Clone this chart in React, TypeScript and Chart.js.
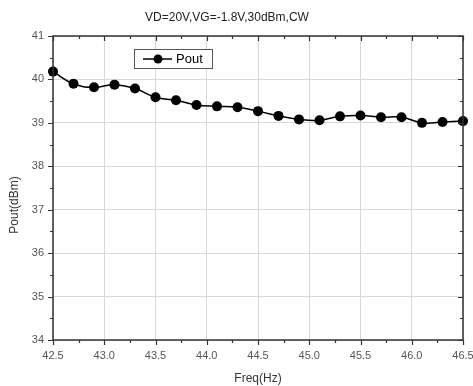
import React, { useEffect, useRef } from "react";
import { Chart, registerables } from "chart.js";

Chart.register(...registerables);

const freqs = [42.5, 42.7, 42.9, 43.1, 43.3, 43.5, 43.7, 43.9, 44.1, 44.3, 44.5, 44.7, 44.9, 45.1, 45.3, 45.5, 45.7, 45.9, 46.1, 46.3, 46.5];
const pout = [40.18, 39.9, 39.82, 39.88, 39.79, 39.59, 39.52, 39.41, 39.38, 39.36, 39.27, 39.16, 39.08, 39.06, 39.15, 39.17, 39.13, 39.13, 39.0, 39.02, 39.04];
const titleText = "VD=20V,VG=-1.8V,30dBm,CW";
const xTitle = "Freq(Hz)";
const yTitle = "Pout(dBm)";
const seriesName = "Pout";
const xMin = 42.5, xMax = 46.5, xStep = 0.5;
const yMin = 34, yMax = 41, yStep = 1;

const FONT = "'Liberation Sans', Arial, sans-serif";

const decorPlugin = {
  id: "decor",
  afterDraw(chart: any) {
    const ctx = chart.ctx as CanvasRenderingContext2D;
    const { left, right, top, bottom } = chart.chartArea;
    const xs = chart.scales.x;
    const ys = chart.scales.y;
    ctx.save();
    ctx.strokeStyle = "#333";
    ctx.lineWidth = 1.5;
    ctx.strokeRect(left, top, right - left, bottom - top);
    ctx.lineWidth = 1.2;
    ctx.beginPath();
    for (let v = xMin; v <= xMax + 1e-9; v += xStep / 2) {
      const major = Math.abs(v / xStep - Math.round(v / xStep)) < 1e-6;
      const px = Math.round(xs.getPixelForValue(v)) + 0.5;
      const len = major ? 5 : 3;
      ctx.moveTo(px, bottom);
      ctx.lineTo(px, bottom + len);
      ctx.moveTo(px, top);
      ctx.lineTo(px, top + len);
    }
    for (let v = yMin; v <= yMax + 1e-9; v += yStep / 2) {
      const major = Math.abs(v / yStep - Math.round(v / yStep)) < 1e-6;
      const py = Math.round(ys.getPixelForValue(v)) + 0.5;
      const len = major ? 5 : 3;
      ctx.moveTo(left, py);
      ctx.lineTo(left - len, py);
      ctx.moveTo(right, py);
      ctx.lineTo(right - len, py);
    }
    ctx.stroke();

    ctx.fillStyle = "#222";
    ctx.font = `12px ${FONT}`;
    ctx.textAlign = "center";
    ctx.textBaseline = "middle";
    ctx.fillText(titleText, 227, 18);

    const lx = 134, ly = 49, lw = 78, lh = 19;
    ctx.fillStyle = "#fff";
    ctx.fillRect(lx, ly, lw, lh);
    ctx.strokeStyle = "#555";
    ctx.lineWidth = 1;
    ctx.strokeRect(lx + 0.5, ly + 0.5, lw, lh);
    const cy = ly + lh / 2 + 0.5;
    ctx.strokeStyle = "#000";
    ctx.lineWidth = 1.5;
    ctx.beginPath();
    ctx.moveTo(143, cy);
    ctx.lineTo(172, cy);
    ctx.stroke();
    ctx.fillStyle = "#000";
    ctx.beginPath();
    ctx.arc(158, cy, 4.5, 0, Math.PI * 2);
    ctx.fill();
    ctx.font = `13px ${FONT}`;
    ctx.textAlign = "left";
    ctx.fillText(seriesName, 176, cy);
    ctx.restore();
  },
};

export default function App() {
  const ref = useRef<HTMLCanvasElement>(null);
  useEffect(() => {
    if (!ref.current) return;
    const chart = new Chart(ref.current, {
      type: "line",
      data: {
        datasets: [
          {
            label: seriesName,
            data: freqs.map((f, i) => ({ x: f, y: pout[i] })),
            borderColor: "#000",
            backgroundColor: "#000",
            borderWidth: 1.5,
            pointRadius: 5,
            pointBackgroundColor: "#000",
            pointBorderWidth: 0,
            tension: 0.45,
            clip: false as any,
          },
        ],
      },
      options: {
        animation: false,
        responsive: false,
        layout: { padding: { top: 36, right: 0, left: 0, bottom: 0 } },
        plugins: {
          legend: { display: false },
          title: { display: false },
          tooltip: { enabled: false },
        },
        scales: {
          x: {
            type: "linear",
            min: xMin,
            max: xMax,
            afterFit: (s: any) => { s.height = 46; s.paddingRight = 10; s.paddingLeft = 0; },
            ticks: {
              stepSize: xStep,
              color: "#555",
              font: { family: FONT, size: 11 },
              padding: 9,
              maxRotation: 0,
              autoSkip: false,
              callback: (v: any) => Number(v).toFixed(1),
            },
            grid: { color: "#d8d8d8", lineWidth: 1, drawTicks: false },
            border: { display: false },
            title: {
              display: true,
              text: xTitle,
              color: "#333",
              font: { family: FONT, size: 12 },
              padding: { top: 3, bottom: 0 },
            },
          },
          y: {
            type: "linear",
            min: yMin,
            max: yMax,
            afterFit: (s: any) => { s.width = 53; s.paddingTop = 0; s.paddingBottom = 0; },
            ticks: {
              stepSize: yStep,
              color: "#555",
              font: { family: FONT, size: 11 },
              padding: 9,
            },
            grid: { color: "#d8d8d8", lineWidth: 1, drawTicks: false },
            border: { display: false },
            title: { display: false },
          },
        },
      },
      plugins: [
        decorPlugin,
        {
          id: "ytitle",
          afterDraw(chart: any) {
            const ctx = chart.ctx as CanvasRenderingContext2D;
            ctx.save();
            ctx.translate(15, 205);
            ctx.rotate(-Math.PI / 2);
            ctx.fillStyle = "#333";
            ctx.font = `12px ${FONT}`;
            ctx.textAlign = "center";
            ctx.textBaseline = "middle";
            ctx.fillText(yTitle, 0, 0);
            ctx.restore();
          },
        },
      ],
    });
    return () => chart.destroy();
  }, []);
  return (
    <div style={{ position: "absolute", left: 0, top: 0, width: 473, height: 386 }}>
      <canvas ref={ref} width={473} height={386} style={{ display: "block", background: "#fff" }} />
    </div>
  );
}
